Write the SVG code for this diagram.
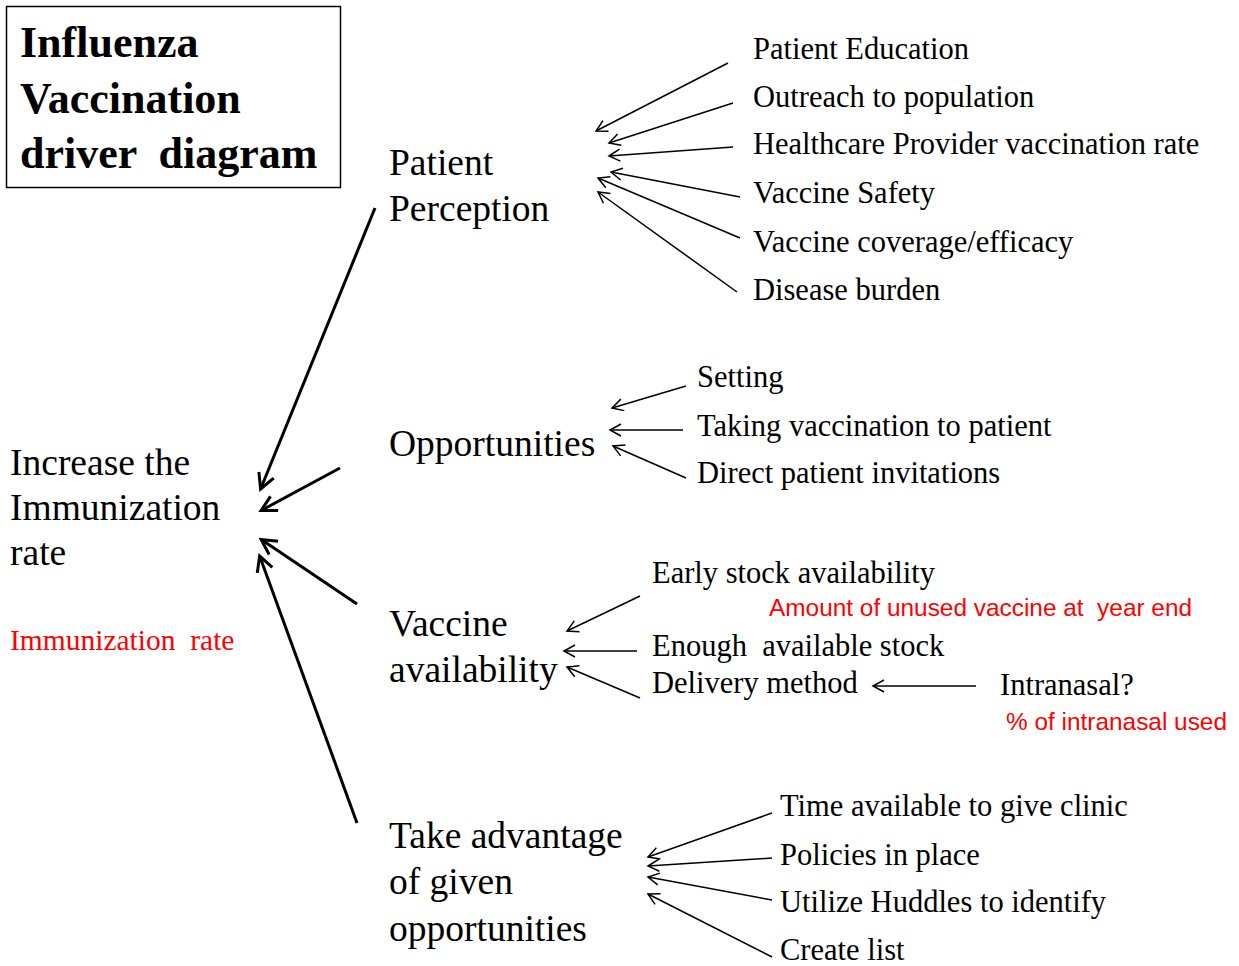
<svg xmlns="http://www.w3.org/2000/svg" width="1239" height="966" viewBox="0 0 1239 966">
<style>
text{font-family:"Liberation Serif","Times New Roman",serif;fill:#000;white-space:pre}
.title{font-size:44px;font-weight:bold}
.big{font-size:37.5px}
.sm{font-size:30.5px}
.red{fill:#ff0000}
.rs{font-family:"Liberation Sans",Arial,sans-serif;font-size:24.4px;fill:#ff0000}
.thin{stroke:#000;stroke-width:1.5;fill:none;marker-end:url(#ah)}
.thick{stroke:#000;stroke-width:3;fill:none;marker-end:url(#ahb)}
</style>
<defs>
<marker id="ah" markerUnits="userSpaceOnUse" markerWidth="16" markerHeight="16" viewBox="-2 -8 16 16" refX="12" refY="0" orient="auto">
<path d="M1,-6 L12,0 L1,6" fill="none" stroke="#000" stroke-width="1.5"/>
</marker>
<marker id="ahb" markerUnits="userSpaceOnUse" markerWidth="22" markerHeight="22" viewBox="-3 -11 22 22" refX="15" refY="0" orient="auto">
<path d="M1,-8 L16,0 L1,8" fill="none" stroke="#000" stroke-width="3"/>
</marker>
</defs>
<rect width="1239" height="966" fill="#fff"/>

<g id="title">
<rect x="6.5" y="6.5" width="334" height="181" fill="none" stroke="#000" stroke-width="1.5"/>
<text class="title" x="20" y="57">Influenza</text>
<text class="title" x="20" y="113">Vaccination</text>
<text class="title" x="20" y="168">driver  diagram</text>
</g>

<g id="goal">
<text class="big" x="10" y="475">Increase the</text>
<text class="big" x="10" y="520">Immunization</text>
<text class="big" x="10" y="565">rate</text>
<text class="sm red" x="10" y="650" style="font-size:29.5px">Immunization  rate</text>
</g>

<g id="patient-perception">
<text class="big" x="389" y="175">Patient</text>
<text class="big" x="389" y="221">Perception</text>
</g>
<g id="opportunities">
<text class="big" x="389" y="456">Opportunities</text>
</g>
<g id="vaccine-availability">
<text class="big" x="389" y="636">Vaccine</text>
<text class="big" x="389" y="682">availability</text>
</g>
<g id="take-advantage">
<text class="big" x="389" y="848">Take advantage</text>
<text class="big" x="389" y="894">of given</text>
<text class="big" x="389" y="941">opportunities</text>
</g>

<g id="pp-drivers">
<text class="sm" x="753" y="59">Patient Education</text>
<text class="sm" x="753" y="107">Outreach to population</text>
<text class="sm" x="753" y="154">Healthcare Provider vaccination rate</text>
<text class="sm" x="753" y="203">Vaccine Safety</text>
<text class="sm" x="753" y="252">Vaccine coverage/efficacy</text>
<text class="sm" x="753" y="300">Disease burden</text>
</g>
<g id="opp-drivers">
<text class="sm" x="697" y="387">Setting</text>
<text class="sm" x="697" y="436">Taking vaccination to patient</text>
<text class="sm" x="697" y="483">Direct patient invitations</text>
</g>
<g id="va-drivers">
<text class="sm" x="652" y="583">Early stock availability</text>
<text class="rs" x="769" y="616">Amount of unused vaccine at  year end</text>
<text class="sm" x="652" y="656">Enough  available stock</text>
<text class="sm" x="652" y="693">Delivery method</text>
<text class="sm" x="1000" y="695">Intranasal?</text>
<text class="rs" x="1006" y="730">% of intranasal used</text>
</g>
<g id="ta-drivers">
<text class="sm" x="780" y="816">Time available to give clinic</text>
<text class="sm" x="780" y="865">Policies in place</text>
<text class="sm" x="780" y="912">Utilize Huddles to identify</text>
<text class="sm" x="780" y="960">Create list</text>
</g>

<g id="connectors">
<line class="thick" x1="375" y1="208" x2="261" y2="488"/>
<line class="thick" x1="340" y1="468" x2="262" y2="510"/>
<line class="thick" x1="357" y1="604" x2="262" y2="540"/>
<line class="thick" x1="357" y1="823" x2="260" y2="557"/>

<line class="thin" x1="728" y1="63" x2="596" y2="131"/>
<line class="thin" x1="733" y1="103" x2="609" y2="143"/>
<line class="thin" x1="733" y1="147" x2="609" y2="156"/>
<line class="thin" x1="740" y1="197" x2="611" y2="172"/>
<line class="thin" x1="740" y1="238" x2="598" y2="178"/>
<line class="thin" x1="737" y1="292" x2="598" y2="192"/>

<line class="thin" x1="686" y1="386" x2="612" y2="408"/>
<line class="thin" x1="683" y1="430" x2="610" y2="430"/>
<line class="thin" x1="686" y1="478" x2="613" y2="446"/>

<line class="thin" x1="640" y1="596" x2="567" y2="631"/>
<line class="thin" x1="637" y1="651" x2="564" y2="651"/>
<line class="thin" x1="640" y1="698" x2="567" y2="667"/>
<line class="thin" x1="976" y1="686" x2="873" y2="686"/>

<line class="thin" x1="772" y1="813" x2="648" y2="857"/>
<line class="thin" x1="772" y1="858" x2="648" y2="866"/>
<line class="thin" x1="772" y1="900" x2="648" y2="877"/>
<line class="thin" x1="772" y1="957" x2="648" y2="894"/>
</g>
</svg>
